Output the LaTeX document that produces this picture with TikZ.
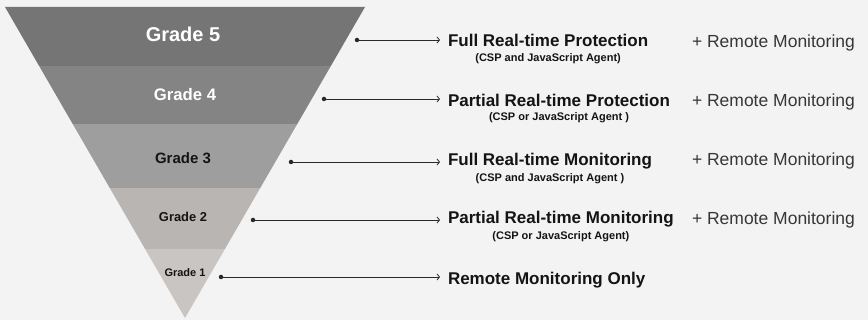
\documentclass[tikz,border=0pt]{standalone}
\usepackage{fontspec}
\setmainfont{Liberation Sans}
\usetikzlibrary{arrows.meta,calc}
\definecolor{bg}{RGB}{243,243,243}
\definecolor{bfive}{RGB}{117,117,117}
\definecolor{bfour}{RGB}{132,132,132}
\definecolor{bthree}{RGB}{158,158,158}
\definecolor{btwo}{RGB}{184,181,179}
\definecolor{bone}{RGB}{200,197,195}
\definecolor{ink}{RGB}{20,20,20}
\definecolor{inkline}{RGB}{40,40,40}
\definecolor{inklight}{RGB}{55,55,55}
\tikzset{
  gradelbl/.style={anchor=base, font=\bfseries},
  titlelbl/.style={anchor=base west, font=\fontsize{17}{20}\selectfont\bfseries, text=ink},
  sublbl/.style={anchor=base, font=\fontsize{11}{13}\selectfont\bfseries, text=ink},
  extralbl/.style={anchor=base west, font=\fontsize{17.5}{20}\selectfont, text=inklight},
  dotnode/.style={circle, fill=inkline, minimum size=4.5pt, inner sep=0pt},
  link/.style={draw=inkline, line width=0.8pt, -{Straight Barb[length=2.5pt,width=6pt]}},
}
\begin{document}
\begin{tikzpicture}[x=1pt,y=-1pt, every node/.append style={inner sep=0pt,outer sep=0pt}]
\fill[bg] (0,0) rectangle (868,320);
\useasboundingbox (0,0) rectangle (868,320);
\begin{scope}
  \clip (5,7) -- (365,7) -- (185,318) -- cycle;
  \fill[bfive]  (0,6)   rectangle (370,66);
  \fill[bfour]  (0,66)  rectangle (370,124);
  \fill[bthree] (0,124) rectangle (370,188);
  \fill[btwo]   (0,188) rectangle (370,249);
  \fill[bone]   (0,249) rectangle (370,320);
\end{scope}
% grade labels
\node[gradelbl, text=white, font=\fontsize{20}{24}\selectfont\bfseries] (g5) at (183,41.2) {Grade 5};
\node[gradelbl, text=white, font=\fontsize{16.7}{20}\selectfont\bfseries] (g4) at (185,101) {Grade 4};
\node[gradelbl, text=ink, font=\fontsize{15}{18}\selectfont\bfseries] (g3) at (183,163.4) {Grade 3};
\node[gradelbl, text=ink, font=\fontsize{12.9}{15}\selectfont\bfseries] (g2) at (183,221.6) {Grade 2};
\node[gradelbl, text=ink, font=\fontsize{11}{13}\selectfont\bfseries] (g1) at (185,277) {Grade 1};
% dots
\node[dotnode] (d5) at (357,40) {};
\node[dotnode] (d4) at (324,99) {};
\node[dotnode] (d3) at (291,162) {};
\node[dotnode] (d2) at (253,220) {};
\node[dotnode] (d1) at (221,277) {};
% titles
\node[titlelbl] (t5) at (448,47) {Full Real-time Protection};
\node[titlelbl] (t4) at (448,107) {Partial Real-time Protection};
\node[titlelbl] (t3) at (448,166) {Full Real-time Monitoring};
\node[titlelbl] (t2) at (448,224) {Partial Real-time Monitoring};
\node[titlelbl] (t1) at (448,285) {Remote Monitoring Only};
% subtitles
\node[sublbl] (s5) at ($(t5.base)+(0,15)$) {(CSP and JavaScript Agent)};
\node[sublbl] (s4) at ($(t4.base)+(0,14)$) {(CSP or JavaScript Agent )};
\node[sublbl] (s3) at ($(t3.base)+(0,16)$) {(CSP and JavaScript Agent )};
\node[sublbl] (s2) at ($(t2.base)+(0,16)$) {(CSP or JavaScript Agent)};
% extras
\node[extralbl] (r5) at (692,48) {+ Remote Monitoring};
\node[extralbl] (r4) at (692,107) {+ Remote Monitoring};
\node[extralbl] (r3) at (692,166) {+ Remote Monitoring};
\node[extralbl] (r2) at (692,225) {+ Remote Monitoring};
% links
\draw[link] (d5.center) -- ($(d5 -| t5.west)+(-8,0)$);
\draw[link] (d4.center) -- ($(d4 -| t4.west)+(-8,0)$);
\draw[link] (d3.center) -- ($(d3 -| t3.west)+(-8,0)$);
\draw[link] (d2.center) -- ($(d2 -| t2.west)+(-8,0)$);
\draw[link] (d1.center) -- ($(d1 -| t1.west)+(-8,0)$);
\end{tikzpicture}
\end{document}
